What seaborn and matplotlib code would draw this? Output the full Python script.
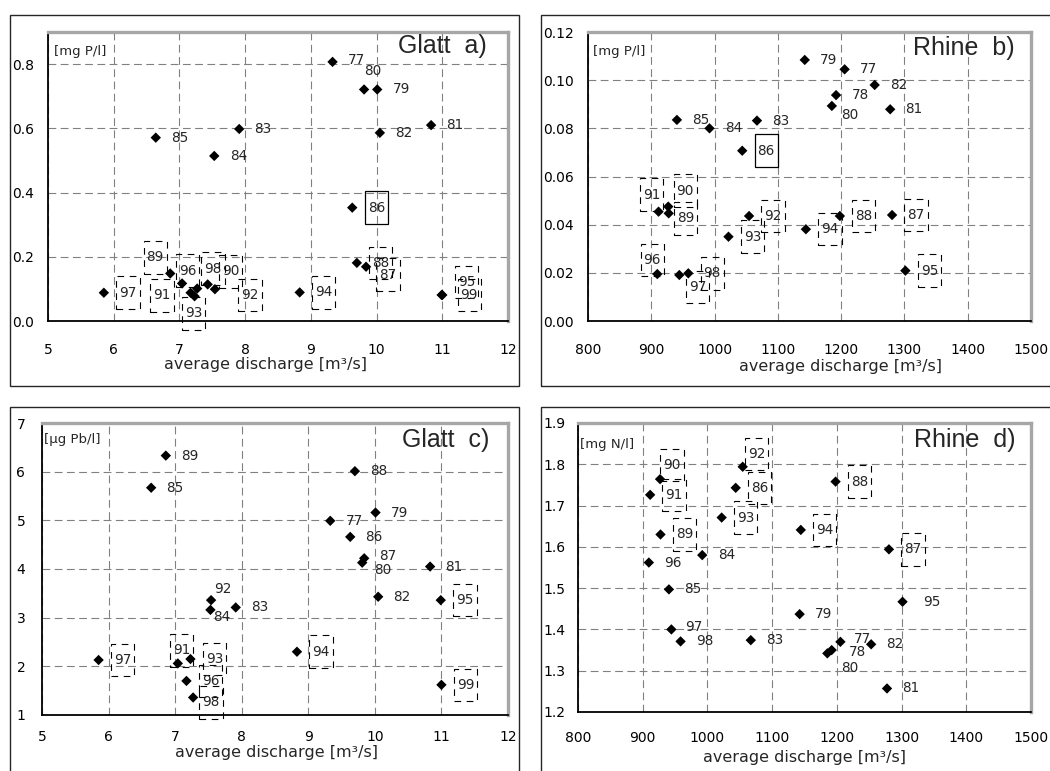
import numpy as np
import pandas as pd
import matplotlib
matplotlib.use("Agg")
import matplotlib.pyplot as plt
import seaborn as sns
from matplotlib.path import Path
from matplotlib.patches import Rectangle
from matplotlib.ticker import MultipleLocator, FormatStrFormatter

# --- data (year, average discharge, concentration) ---
glatt_years = [77, 79, 80, 81, 82, 83, 84, 85, 86, 87, 88, 89, 90, 91, 92, 93, 94, 95, 96, 97, 98, 99]
glatt_q = [9.33, 10.01, 9.81, 10.83, 10.05, 7.91, 7.53, 6.64, 9.63, 9.84, 9.70, 6.86,
           7.43, 7.04, 7.54, 7.23, 8.83, 10.99, 7.17, 5.85, 7.27, 11.00]
glatt_p = [0.807, 0.721, 0.721, 0.610, 0.586, 0.598, 0.514, 0.571, 0.353, 0.169, 0.181, 0.148,
           0.114, 0.117, 0.099, 0.077, 0.089, 0.081, 0.088, 0.088, 0.101, 0.081]
glatt_pb = [4.99, 5.16, 4.13, 4.05, 3.43, 3.21, 3.16, 5.67, 4.66, 4.22, 6.01, 6.33,
            np.nan, 2.06, 3.36, 2.15, 2.30, 3.36, 1.70, 2.13, 1.36, 1.62]

rhine_years = [77, 78, 79, 80, 81, 82, 83, 84, 85, 86, 87, 88, 89, 90, 91, 92, 93, 94, 95, 96, 97, 98]
rhine_q = [1205.5, 1192, 1142.5, 1185.3, 1277.5, 1253, 1067, 992, 940.5, 1043.7, 1280.5, 1198,
           927.5, 926.8, 911.5, 1054.5, 1022, 1144.3, 1301.5, 909.5, 944.3, 958.5]
rhine_p = [0.1045, 0.0938, 0.1084, 0.0893, 0.0879, 0.0980, 0.0832, 0.0800, 0.0835, 0.0707, 0.0440,
           0.0436, 0.0447, 0.0475, 0.0454, 0.0436, 0.0350, 0.0381, 0.0209, 0.0195, 0.0191, 0.0198]
rhine_n = [1.370, 1.350, 1.437, 1.342, 1.257, 1.364, 1.374, 1.580, 1.497, 1.743, 1.594, 1.758,
           1.630, 1.764, 1.726, 1.794, 1.671, 1.641, 1.467, 1.562, 1.400, 1.371]

xlabel = "average discharge [m³/s]"

# label placement (pixels right / down from the marker), default (24, 0)
offsets_a = {80: (9, -18), 77: (24, -2), 87: (22, 8), 95: (25, -13), 99: (27, 0), 89: (-15, -16),
             91: (-20, 12), 96: (-3, -22), 93: (-1, 17), 98: (16, -20), 90: (23, -13), 92: (35, 6)}
offsets_b = {91: (-7, -17), 90: (17, -16), 89: (17, 5), 96: (-5, -14), 97: (18, 12), 80: (18, 9)}
offsets_c = {92: (12, -11), 84: (11, 7), 91: (4, -13), 98: (18, 5), 80: (21, 7), 87: (24, -2)}
offsets_d = {90: (12, -14), 92: (14, -13), 78: (26, 2), 80: (22, 15), 77: (22, -3), 95: (29, 0), 97: (22, -2)}

W, H = 1050, 771

sns.set_style("white")
plt.rcParams["font.family"] = ["DejaVu Sans"]

fig = plt.figure(figsize=(W / 100, H / 100), dpi=100)


def tall_box(x0, y0, width, height, mutation_size):
    px = 0.22 * mutation_size
    py = 0.68 * mutation_size
    verts = [(x0 - px, y0 - py), (x0 + width + px, y0 - py), (x0 + width + px, y0 + height + py),
             (x0 - px, y0 + height + py), (x0 - px, y0 - py)]
    return Path(verts, closed=True)


def frac(x0, y0, x1, y1):
    return [x0 / W, 1 - y1 / H, (x1 - x0) / W, (y1 - y0) / H]


# chart-area frames
for x0, y0, x1, y1 in [(10, 15, 519, 386), (541, 15, 1058, 386), (10, 407, 519, 780), (541, 407, 1058, 780)]:
    fig.add_artist(Rectangle((x0 / W, 1 - y1 / H), (x1 - x0) / W, (y1 - y0) / H,
                             transform=fig.transFigure, fill=False, ec="#262626", lw=1.0))

panels = [
    dict(rect=frac(48, 32, 508, 321), years=glatt_years, x=glatt_q, y=glatt_p,
         xlim=(5, 12), xstep=1, ylim=(0, 0.9), ystep=0.2, fmt="%.1f",
         title="Glatt  a)", tpos=(0.954, 0.927), unit="[mg P/l]", upos=(0.012, 0.92),
         offsets=offsets_a, solid={86}, dashed=set(range(87, 100)),
         xpad=13, ypad=7, lab=(0.473, -0.149)),
    dict(rect=frac(588, 32, 1031, 321), years=rhine_years, x=rhine_q, y=rhine_p,
         xlim=(800, 1500), xstep=100, ylim=(0, 0.12), ystep=0.02, fmt="%.2f",
         title="Rhine  b)", tpos=(0.964, 0.92), unit="[mg P/l]", upos=(0.012, 0.92),
         offsets=offsets_b, solid={86}, dashed=set(range(87, 99)),
         xpad=13, ypad=7, lab=(0.569, -0.159)),
    dict(rect=frac(42, 423, 508, 715), years=glatt_years, x=glatt_q, y=glatt_pb,
         xlim=(5, 12), xstep=1, ylim=(1, 7), ystep=1, fmt="%.0f",
         title="Glatt  c)", tpos=(0.96, 0.919), unit="[µg Pb/l]", upos=(0.005, 0.93),
         offsets=offsets_c, solid=set(), dashed={91, 93, 94, 95, 96, 97, 98, 99},
         xpad=8, ypad=9, lab=(0.504, -0.13)),
    dict(rect=frac(578, 423, 1031, 712), years=rhine_years, x=rhine_q, y=rhine_n,
         xlim=(800, 1500), xstep=100, ylim=(1.2, 1.9), ystep=0.1, fmt="%.1f",
         title="Rhine  d)", tpos=(0.965, 0.918), unit="[mg N/l]", upos=(0.005, 0.912),
         offsets=offsets_d, solid=set(), dashed={86, 87, 88, 89, 90, 91, 92, 93, 94},
         xpad=11, ypad=6, lab=(0.499, -0.157)),
]

for p in panels:
    ax = fig.add_axes(p["rect"])
    df = pd.DataFrame({"year": p["years"], "q": p["x"], "c": p["y"]})
    sns.scatterplot(data=df, x="q", y="c", ax=ax, marker="D", s=28, color="black",
                    edgecolor="none", linewidth=0, legend=False, zorder=5)

    ax.set_xlim(*p["xlim"])
    ax.set_ylim(*p["ylim"])
    ax.xaxis.set_major_locator(MultipleLocator(p["xstep"]))
    ax.yaxis.set_major_locator(MultipleLocator(p["ystep"]))
    ax.yaxis.set_major_formatter(FormatStrFormatter(p["fmt"]))
    ax.grid(True, color="#808080", lw=0.8, ls=(0, (7, 4)))
    ax.set_axisbelow(True)

    for side in ["left", "bottom"]:
        ax.spines[side].set_color("black")
        ax.spines[side].set_linewidth(1.3)
    for side in ["top", "right"]:
        ax.spines[side].set_color("#a6a6a6")
        ax.spines[side].set_linewidth(2.4)
    ax.tick_params(axis="both", direction="inout", length=6, width=1.0, color="black",
                   labelsize=10, labelcolor="black")
    ax.tick_params(axis="x", pad=p["xpad"])
    ax.tick_params(axis="y", pad=p["ypad"])

    ax.set_xlabel(xlabel, fontsize=11.5)
    ax.set_ylabel("")
    ax.xaxis.label.set_va("center")
    ax.xaxis.set_label_coords(*p["lab"])

    ax.text(p["tpos"][0], p["tpos"][1], p["title"], transform=ax.transAxes, ha="right",
            va="baseline", fontsize=18, family=["Liberation Sans", "DejaVu Sans"])
    ax.text(p["upos"][0], p["upos"][1], p["unit"], transform=ax.transAxes, ha="left",
            va="baseline", fontsize=9.5)

    for yr, xv, yv in zip(df["year"], df["q"], df["c"]):
        if np.isnan(yv):
            continue
        dx, dy = p["offsets"].get(yr, (24, 0))
        bbox = None
        if yr in p["solid"]:
            bbox = dict(boxstyle=tall_box, fc="none", ec="black", lw=0.9)
        elif yr in p["dashed"]:
            bbox = dict(boxstyle=tall_box, fc="none", ec="black", lw=0.8, ls=(0, (6, 5)))
        ax.annotate(f"{yr}", xy=(xv, yv), xytext=(dx * 0.72, -dy * 0.72),
                    textcoords="offset points", ha="center", va="center",
                    fontsize=9.8, bbox=bbox, zorder=6)

fig.savefig("out.png", dpi=100)
